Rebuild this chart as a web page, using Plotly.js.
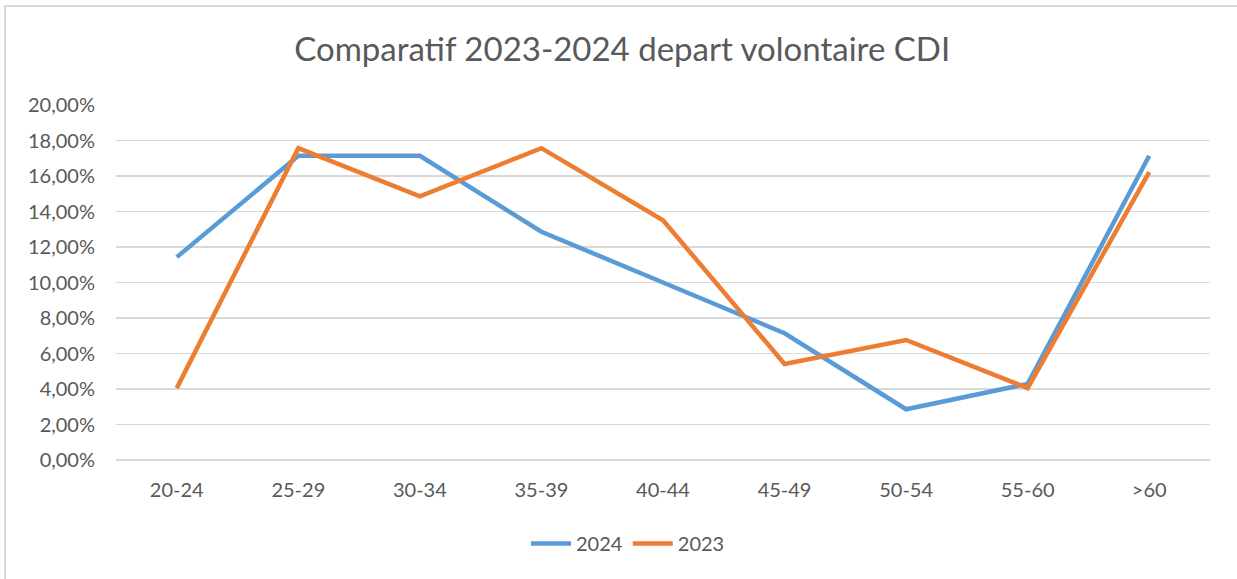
<!DOCTYPE html>
<html>
<head>
<meta charset="utf-8">
<script src="https://cdn.plot.ly/plotly-3.0.1.min.js"></script>
<style>
html,body{margin:0;padding:0;background:#fff;}
#wrap{position:absolute;left:0;top:0;width:1237px;height:579px;overflow:hidden;}
#frame{position:absolute;left:4px;top:5px;width:1300px;height:700px;border-left:2px solid #d9d9d9;border-top:2px solid #d9d9d9;pointer-events:none;}
#chart{position:absolute;left:0;top:0;width:1237px;height:579px;}
</style>
</head>
<body>
<div id="wrap">
<div id="chart"></div>
<div id="frame"></div>
</div>
<script>
const categories = ["20-24","25-29","30-34","35-39","40-44","45-49","50-54","55-60",">60"];
const values2024 = [0.1143,0.1714,0.1714,0.1286,0.1000,0.0714,0.0286,0.0429,0.1714];
const values2023 = [0.0405,0.1757,0.1486,0.1757,0.1351,0.0541,0.0676,0.0405,0.1622];
const yTicks = [0,0.02,0.04,0.06,0.08,0.10,0.12,0.14,0.16,0.18,0.20];

const font = {family: "Lato, 'Open Sans', sans-serif", color: "#595959"};

const traces = [
  {x: categories, y: values2024, name: "2024", type: "scatter", mode: "lines",
   line: {color: "#5B9BD5", width: 4.5}},
  {x: categories, y: values2023, name: "2023", type: "scatter", mode: "lines",
   line: {color: "#ED7D31", width: 4.5}}
];

const layout = {
  width: 1237, height: 579,
  margin: {l: 116, r: 27, t: 105, b: 119},
  paper_bgcolor: "#fff", plot_bgcolor: "#fff",
  separators: ", ",
  font: font,
  title: {text: "Comparatif 2023-2024 depart volontaire CDI", x: 0.503, xanchor: "center",
          y: 0.915, yanchor: "middle", font: {family: font.family, size: 33, color: "#595959"}},
  xaxis: {type: "category", range: [-0.5, 8.5], showgrid: false, zeroline: false, showline: false,
          ticks: "", tickfont: {size: 20, color: "#595959"}, ticklabelstandoff: 16, fixedrange: true},
  yaxis: {range: [0, 0.2], tickvals: yTicks, tickformat: ".2%", showgrid: true,
          gridcolor: "#d9d9d9", gridwidth: 1.3, zeroline: true, zerolinecolor: "#d9d9d9", zerolinewidth: 1.3,
          showline: false, ticks: "", tickfont: {size: 20, color: "#595959"}, ticklabelstandoff: 20, fixedrange: true},
  showlegend: true,
  legend: {orientation: "h", x: 0.468, xanchor: "center", y: -0.235, yanchor: "middle",
           font: {size: 20, color: "#595959"}, itemwidth: 40, tracegroupgap: 0},
  hovermode: false
};

Plotly.newPlot("chart", traces, layout, {displayModeBar: false, staticPlot: true});
</script>
</body>
</html>
